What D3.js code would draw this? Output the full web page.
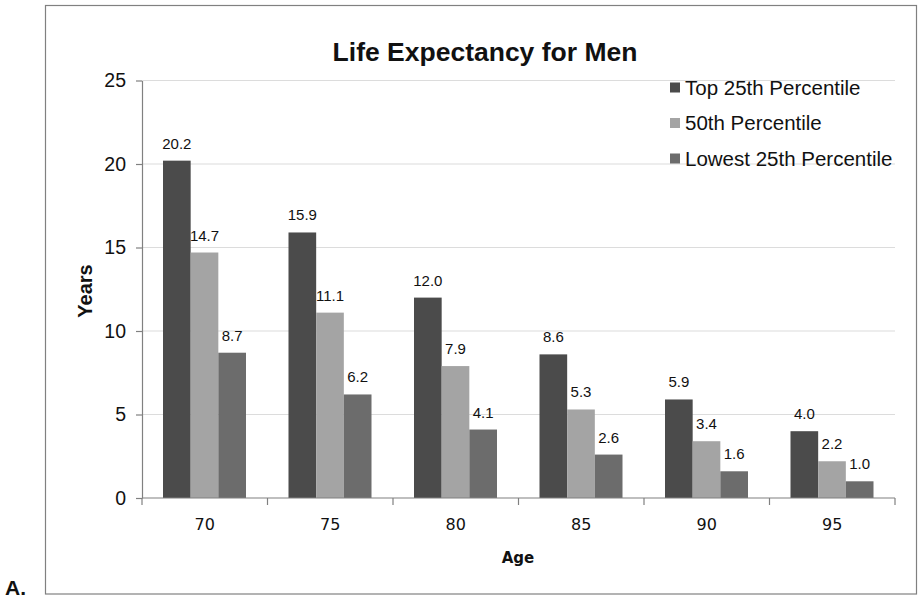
<!DOCTYPE html>
<html>
<head>
<meta charset="utf-8">
<script src="https://cdn.jsdelivr.net/npm/d3@7"></script>
<style>
  body { margin: 0; background: #fff; }
  svg { display: block; }
</style>
</head>
<body>
<svg id="chart" width="923" height="600"></svg>
<script>
// chart data
var ages = ["70", "75", "80", "85", "90", "95"];
var seriesNames = ["Top 25th Percentile", "50th Percentile", "Lowest 25th Percentile"];
var top25 = [20.2, 15.9, 12.0, 8.6, 5.9, 4.0];
var median50 = [14.7, 11.1, 7.9, 5.3, 3.4, 2.2];
var lowest25 = [8.7, 6.2, 4.1, 2.6, 1.6, 1.0];
var yTicks = [0, 5, 10, 15, 20, 25];

var colors = ["#4b4b4b", "#a4a4a4", "#6c6c6c"];
var allSeries = [top25, median50, lowest25];

var svg = d3.select("#chart");
var plotLeft = 142, plotRight = 895, plotTop = 80.5, plotBottom = 498;

// outer frame
svg.append("rect")
  .attr("x", 45.5).attr("y", 5.5)
  .attr("width", 871).attr("height", 588.5)
  .attr("fill", "none")
  .attr("stroke", "#808080")
  .attr("stroke-width", 1.2);

svg.append("text")
  .attr("x", 5).attr("y", 595)
  .attr("font-family", "Liberation Sans, Arial, sans-serif")
  .attr("font-size", 21)
  .attr("font-weight", "bold")
  .attr("fill", "#111")
  .text("A.");

var x0 = d3.scaleBand().domain(ages).range([plotLeft, plotRight]).paddingInner(0).paddingOuter(0);
var x1 = d3.scaleBand().domain(d3.range(3)).range([21, x0.bandwidth() - 21.5]);
var y = d3.scaleLinear().domain([0, 25]).range([plotBottom, plotTop]);

// gridlines
svg.append("g")
  .selectAll("line")
  .data(yTicks.slice(1))
  .enter().append("line")
  .attr("x1", plotLeft).attr("x2", plotRight)
  .attr("y1", d => y(d)).attr("y2", d => y(d))
  .attr("stroke", "#dcdcdc")
  .attr("stroke-width", 1.2);

// bars
var groups = svg.append("g")
  .selectAll("g")
  .data(ages)
  .enter().append("g")
  .attr("transform", d => "translate(" + x0(d) + ",0)");

groups.selectAll("rect")
  .data((d, i) => allSeries.map((s, k) => ({k: k, v: s[i]})))
  .enter().append("rect")
  .attr("x", d => x1(d.k))
  .attr("width", x1.bandwidth())
  .attr("y", d => y(d.v))
  .attr("height", d => y(0) - y(d.v))
  .attr("fill", d => colors[d.k]);

groups.selectAll("text")
  .data((d, i) => allSeries.map((s, k) => ({k: k, v: s[i]})))
  .enter().append("text")
  .attr("x", d => x1(d.k) + x1.bandwidth() / 2)
  .attr("y", d => y(d.v) - 12)
  .attr("text-anchor", "middle")
  .attr("font-family", "Liberation Sans, Arial, sans-serif")
  .attr("font-size", 15)
  .attr("fill", "#111")
  .text(d => d3.format(".1f")(d.v));

// y axis
var yAxis = svg.append("g")
  .attr("transform", "translate(" + plotLeft + ",0)")
  .call(d3.axisLeft(y).tickValues(yTicks).tickSize(6).tickSizeOuter(0).tickPadding(10));
yAxis.select(".domain").attr("stroke", "#808080").attr("stroke-width", 1.2);
yAxis.selectAll(".tick line").attr("stroke", "#808080").attr("stroke-width", 1.2);
yAxis.selectAll(".tick text")
  .attr("font-family", "Liberation Sans, Arial, sans-serif")
  .attr("font-size", 19.5)
  .attr("fill", "#111");

// x axis: ticks on band edges
var xAxis = svg.append("g")
  .attr("transform", "translate(0," + plotBottom + ")");
xAxis.append("line")
  .attr("x1", plotLeft).attr("x2", plotRight)
  .attr("stroke", "#808080").attr("stroke-width", 1.2);
xAxis.selectAll(".edge")
  .data(ages.concat(["end"]))
  .enter().append("line")
  .attr("x1", (d, i) => plotLeft + i * x0.bandwidth())
  .attr("x2", (d, i) => plotLeft + i * x0.bandwidth())
  .attr("y1", 0).attr("y2", 7)
  .attr("stroke", "#808080").attr("stroke-width", 1.2);
xAxis.selectAll("text")
  .data(ages)
  .enter().append("text")
  .attr("x", d => x0(d) + x0.bandwidth() / 2)
  .attr("y", 32)
  .attr("text-anchor", "middle")
  .attr("font-family", "DejaVu Sans, Verdana, sans-serif")
  .attr("font-size", 16)
  .attr("fill", "#111")
  .text(d => d);

// axis titles
svg.append("text")
  .attr("x", 518).attr("y", 563)
  .attr("text-anchor", "middle")
  .attr("font-family", "DejaVu Sans, Verdana, sans-serif")
  .attr("font-size", 15)
  .attr("font-weight", "bold")
  .attr("fill", "#111")
  .text("Age");

svg.append("text")
  .attr("transform", "translate(92,291) rotate(-90)")
  .attr("text-anchor", "middle")
  .attr("font-family", "Liberation Sans, Arial, sans-serif")
  .attr("font-size", 20)
  .attr("font-weight", "bold")
  .attr("fill", "#111")
  .text("Years");

// title
svg.append("text")
  .attr("x", 485).attr("y", 61)
  .attr("text-anchor", "middle")
  .attr("font-family", "Liberation Sans, Arial, sans-serif")
  .attr("font-size", 26.5)
  .attr("font-weight", "bold")
  .attr("fill", "#111")
  .text("Life Expectancy for Men");

// legend
var legend = svg.append("g")
  .selectAll("g")
  .data(seriesNames)
  .enter().append("g")
  .attr("transform", (d, i) => "translate(670," + (87.5 + i * 35.5) + ")");
legend.append("rect")
  .attr("x", 0).attr("y", -5)
  .attr("width", 10).attr("height", 10)
  .attr("fill", (d, i) => colors[i]);
legend.append("text")
  .attr("x", 15).attr("y", 7)
  .attr("font-family", "Liberation Sans, Arial, sans-serif")
  .attr("font-size", 20.5)
  .attr("fill", "#111")
  .text(d => d);
</script>
</body>
</html>
